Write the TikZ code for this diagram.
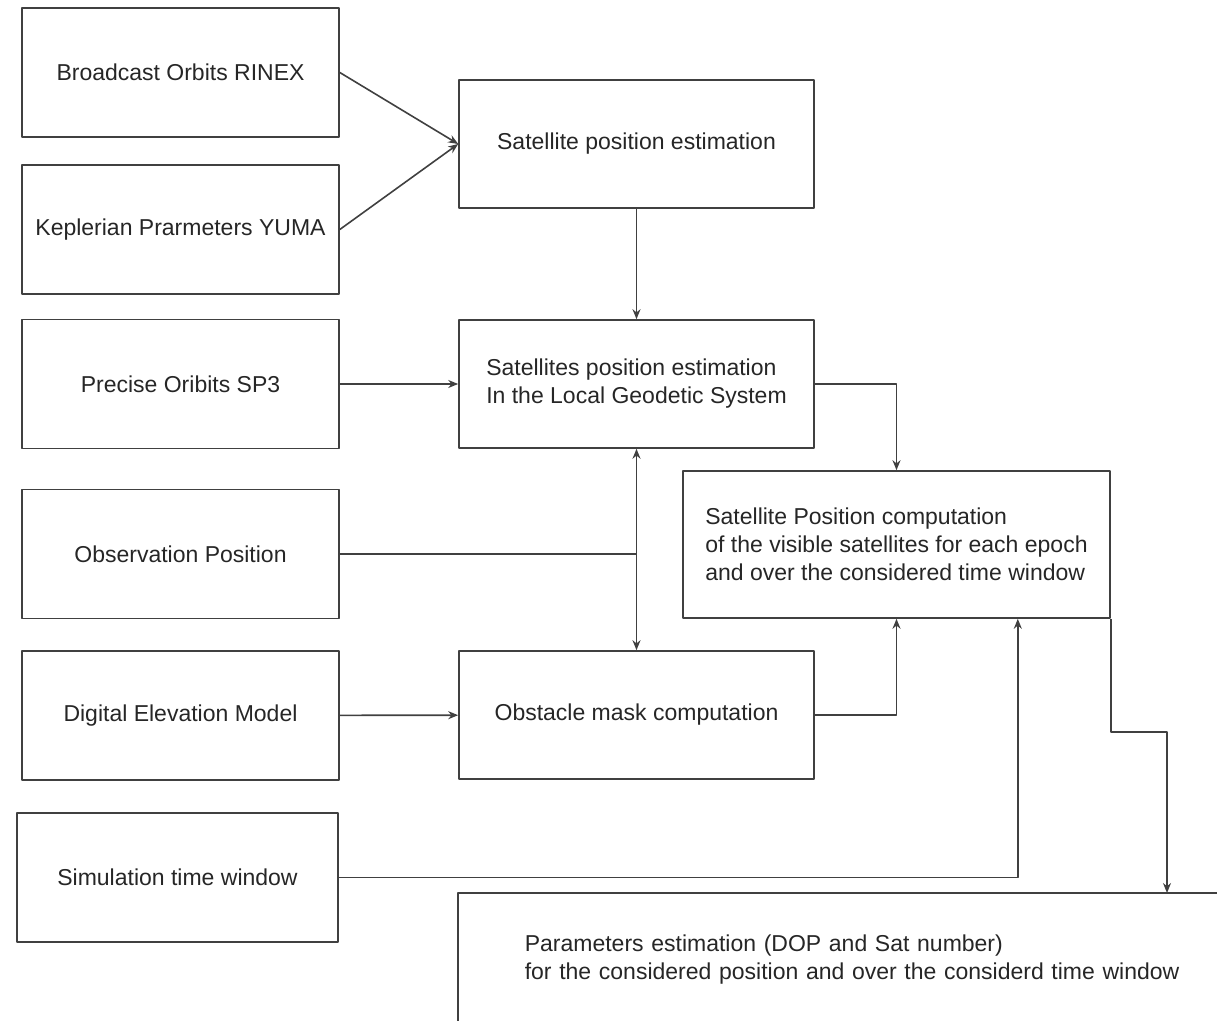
\documentclass[tikz,border=0pt]{standalone}
\usepackage{fontspec}
\setmainfont{Liberation Sans}
\usetikzlibrary{arrows.meta}
\begin{document}
\begin{tikzpicture} [x=0.5pt, y=-0.5pt, font=\fontsize{11.5}{14}\selectfont, line join=round, >={Stealth[length=5pt,width=4pt]},
 line width=0.8pt, draw=black!75, text=black!85,
 inbox/.style={draw, minimum width=158.5pt, minimum height=64.5pt, inner sep=0pt},
 stepbox/.style={draw, minimum width=177.5pt, minimum height=64pt, inner sep=0pt, align=left}]
 \useasboundingbox (0,0) rectangle (1217,1021);
 \coordinate (rim) at (1217,1021);
 % inputs
 \node[inbox] (bro) at (180.5,72.5) {Broadcast Orbits RINEX};
 \node[inbox] (kep) at (180.5,229.5) {Keplerian Prarmeters YUMA};
 \node[inbox] (pre) at (180.5,384) {Precise Oribits SP3};
 \node[inbox] (obs) at (180.5,554) {Observation Position};
 \node[inbox] (dem) at (180.5,715.5) {Digital Elevation Model};
 \node[inbox, minimum width=160.5pt] (sim) at (177.5,877.5) {Simulation time window};
 % processing
 \node[stepbox] (sat) at (636.5,144) {Satellite position estimation};
 \node[stepbox] (lgs) at (636.5,384) {Satellites position estimation\\In the Local Geodetic System};
 \node[draw, minimum width=213.5pt, minimum height=73.5pt, inner sep=0pt, align=left] (vis) at (896.5,544.5)
  {Satellite Position computation\\of the visible satellites for each epoch\\and over the considered time window};
 \node[stepbox] (msk) at (636.5,715) {Obstacle mask computation};
 \node[anchor=north west, minimum height=66pt, inner xsep=33pt, text width=340pt, align=left] (fin) at (458,893)
  {Parameters estimation (DOP and Sat number)\\for the considered position and over the considerd time window};
 \draw (fin.south west |- rim) -- (fin.north west) -- (fin.north west -| rim);
 % connectors
 \draw[->] (bro.east) -- (sat.west);
 \draw[->] (kep.east) -- (sat.west);
 \draw[->] (sat) -- (lgs);
 \draw[->] (pre) -- (lgs);
 \draw[->] (lgs.east) -| (vis.north);
 \draw (obs.east) -- (obs.east -| lgs.south);
 \draw[<->] (lgs) -- (msk);
 \draw[->] (dem) -- (msk);
 \draw[->] (msk.east) -| (vis.south);
 \draw[->] (sim.east) -| ([xshift=-46.5pt]vis.south east);
 \coordinate (turn) at (1167,732);
 \draw[->] (vis.south east) |- (turn) -- (turn |- fin.north);
\end{tikzpicture}
\end{document}
